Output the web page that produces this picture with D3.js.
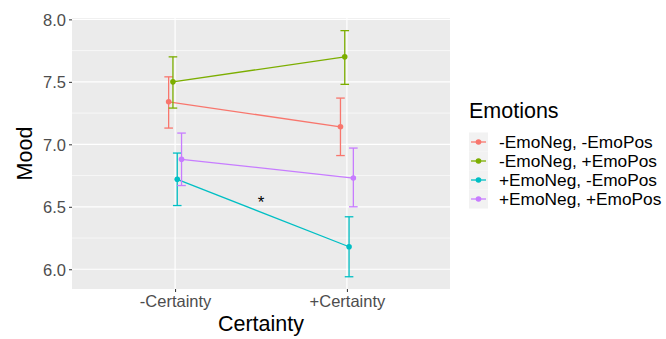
<!DOCTYPE html>
<html>
<head>
<meta charset="utf-8">
<script src="https://cdn.jsdelivr.net/npm/d3@7"></script>
<style>
  html, body { margin: 0; padding: 0; background: #fff; }
  svg { display: block; font-family: "Liberation Sans", Arial, sans-serif; }
</style>
</head>
<body>
<svg id="chart" width="666" height="339"></svg>
<script>
// Certainty levels on the x axis
const categories = ["-Certainty", "+Certainty"];
// Emotion groups (legend order)
const groups = ["-EmoNeg, -EmoPos", "-EmoNeg, +EmoPos", "+EmoNeg, -EmoPos", "+EmoNeg, +EmoPos"];
const colors = ["#F8766D", "#7CAE00", "#00BFC4", "#C77CFF"];
// Mean mood per group, one value per certainty level
const means = [
  [7.34, 7.14],
  [7.50, 7.70],
  [6.72, 6.18],
  [6.88, 6.73]
];
// Error bar bounds
const lower = [
  [7.13, 6.91],
  [7.29, 7.48],
  [6.51, 5.94],
  [6.67, 6.50]
];
const upper = [
  [7.54, 7.37],
  [7.70, 7.91],
  [6.93, 6.42],
  [7.09, 6.97]
];
const yTicks = [6.0, 6.5, 7.0, 7.5, 8.0];
const yMinor = [6.25, 6.75, 7.25, 7.75];

const svg = d3.select("#chart");
const panel = { left: 72, top: 18, right: 450, bottom: 289 };

const x = d3.scaleLinear().domain([0.4, 2.6]).range([panel.left, panel.right]);
const y = d3.scaleLinear().domain([5.842, 8.011]).range([panel.bottom, panel.top]);
const dodge = 0.1;
const xPos = (gi, ci) => x(ci + 1 + (gi - (groups.length - 1) / 2) * dodge / groups.length);

// panel background
svg.append("rect")
  .attr("x", panel.left).attr("y", panel.top)
  .attr("width", panel.right - panel.left).attr("height", panel.bottom - panel.top)
  .attr("fill", "#EBEBEB");

const grid = svg.append("g");
grid.selectAll(".minor").data(yMinor).join("line")
  .attr("x1", panel.left).attr("x2", panel.right)
  .attr("y1", d => y(d)).attr("y2", d => y(d))
  .attr("stroke", "#fff").attr("stroke-width", 0.6);
grid.selectAll(".major").data(yTicks).join("line")
  .attr("x1", panel.left).attr("x2", panel.right)
  .attr("y1", d => y(d)).attr("y2", d => y(d))
  .attr("stroke", "#fff").attr("stroke-width", 1.2);
grid.selectAll(".vmajor").data(categories).join("line")
  .attr("x1", (d, i) => x(i + 1)).attr("x2", (d, i) => x(i + 1))
  .attr("y1", panel.top).attr("y2", panel.bottom)
  .attr("stroke", "#fff").attr("stroke-width", 1.2);

// axes
const yAxis = d3.axisLeft(y).tickValues(yTicks).tickFormat(d3.format(".1f")).tickSize(3).tickPadding(3);
const gy = svg.append("g").attr("transform", `translate(${panel.left},0)`).call(yAxis);
gy.select(".domain").remove();
gy.selectAll("line").attr("stroke", "#333");
gy.selectAll("text").attr("fill", "#4D4D4D").style("font-size", "16.5px").attr("dy", "0.35em");

const xAxis = d3.axisBottom(x).tickValues([1, 2]).tickFormat((d, i) => categories[i]).tickSize(3).tickPadding(3);
const gx = svg.append("g").attr("transform", `translate(0,${panel.bottom})`).call(xAxis);
gx.select(".domain").remove();
gx.selectAll("line").attr("stroke", "#333");
gx.selectAll("text").attr("fill", "#4D4D4D").style("font-size", "16.5px").attr("dy", null).attr("y", 18);

// axis titles
svg.append("text").attr("x", x(1.5)).attr("y", 331)
  .attr("text-anchor", "middle").style("font-size", "21.5px").attr("fill", "#000")
  .text("Certainty");
svg.append("text").attr("transform", `translate(32,${(panel.top + panel.bottom) / 2}) rotate(-90)`)
  .attr("text-anchor", "middle").style("font-size", "21.5px").attr("fill", "#000")
  .text("Mood");

// series
const capHalf = 4.3;
groups.forEach((g, gi) => {
  const layer = svg.append("g");
  const pts = categories.map((c, ci) => ({ ci, m: means[gi][ci], lo: lower[gi][ci], hi: upper[gi][ci] }));
  layer.append("path")
    .attr("d", d3.line().x(d => xPos(gi, d.ci)).y(d => y(d.m))(pts))
    .attr("fill", "none").attr("stroke", colors[gi]).attr("stroke-width", 1.3);
  pts.forEach(d => {
    const cx = xPos(gi, d.ci);
    layer.append("line").attr("x1", cx).attr("x2", cx).attr("y1", y(d.lo)).attr("y2", y(d.hi))
      .attr("stroke", colors[gi]).attr("stroke-width", 1.3);
    [d.lo, d.hi].forEach(v => layer.append("line")
      .attr("x1", cx - capHalf).attr("x2", cx + capHalf).attr("y1", y(v)).attr("y2", y(v))
      .attr("stroke", colors[gi]).attr("stroke-width", 1.3));
    layer.append("circle").attr("cx", cx).attr("cy", y(d.m)).attr("r", 2.8).attr("fill", colors[gi]);
  });
});

// significance marker
svg.append("text").attr("x", x(1.5)).attr("y", 208)
  .attr("text-anchor", "middle").style("font-size", "17px").attr("fill", "#000").text("*");

// legend
const legend = svg.append("g").attr("transform", "translate(469,0)");
legend.append("text").attr("x", 0).attr("y", 118).style("font-size", "21.5px").attr("fill", "#000").text("Emotions");
const rowY = [142, 161, 180, 199];
groups.forEach((g, gi) => {
  const r = legend.append("g").attr("transform", `translate(0,${rowY[gi]})`);
  r.append("rect").attr("x", 0).attr("y", -9.5).attr("width", 19).attr("height", 19).attr("fill", "#F2F2F2");
  r.append("line").attr("x1", 2).attr("x2", 17).attr("y1", 0).attr("y2", 0)
    .attr("stroke", colors[gi]).attr("stroke-width", 1.3);
  r.append("circle").attr("cx", 9.5).attr("cy", 0).attr("r", 2.8).attr("fill", colors[gi]);
  r.append("text").attr("x", 30).attr("y", 6).style("font-size", "17.3px").attr("fill", "#000").text(g);
});
</script>
</body>
</html>
